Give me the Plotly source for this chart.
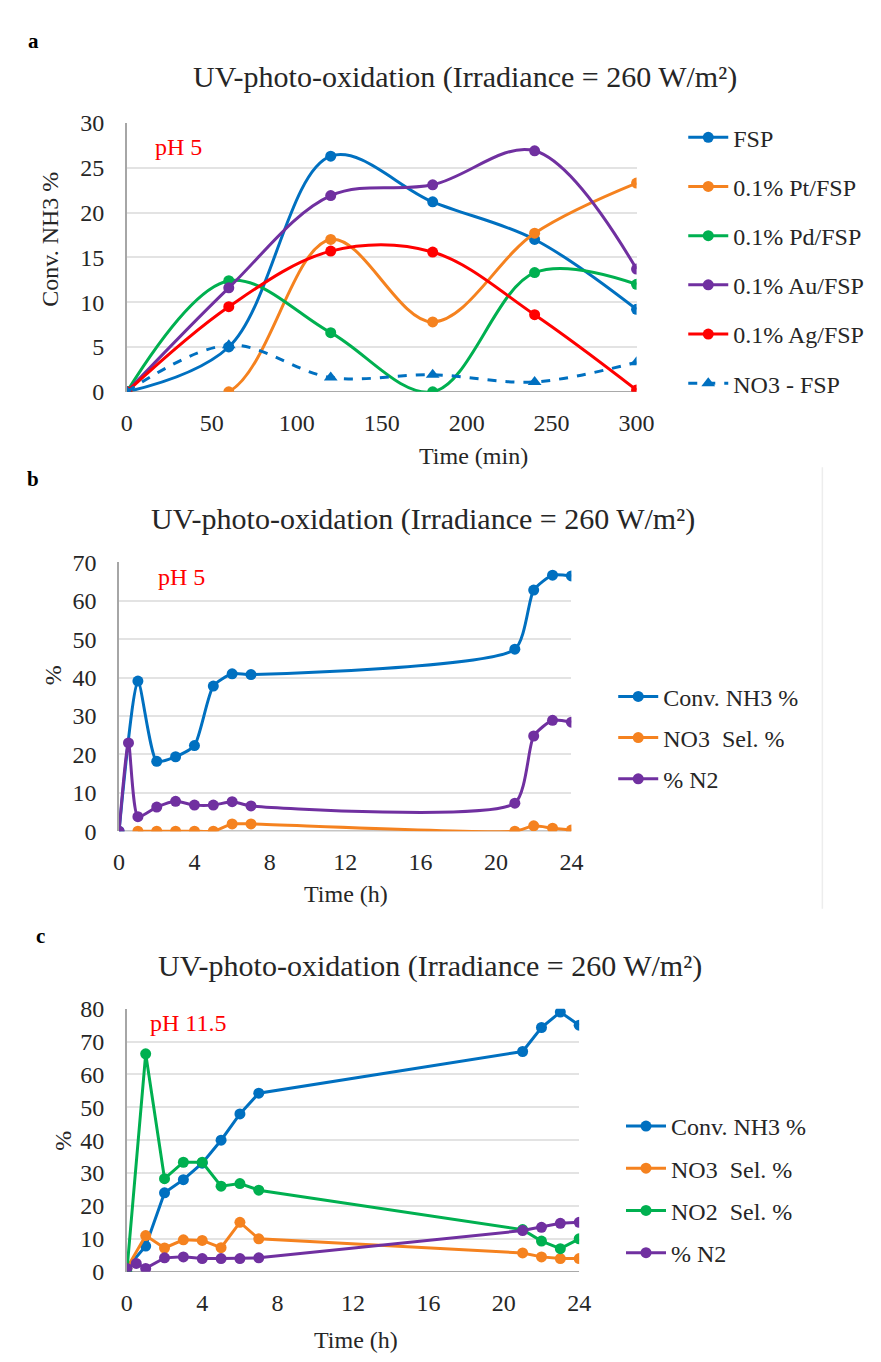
import plotly.graph_objects as go

W, H = 881, 1362
FONT = "Liberation Serif, Times New Roman, serif"

# ---------------- Panel a data ----------------
a_time = [0, 60, 120, 180, 240, 300]
a_fsp = [0, 5.0, 26.3, 21.2, 17.0, 9.2]
a_pt = [0, 0.0, 17.0, 7.8, 17.7, 23.3]
a_pd = [0, 12.4, 6.6, 0.0, 13.3, 12.0]
a_au = [0, 11.6, 21.9, 23.1, 26.9, 13.7]
a_ag = [0, 9.5, 15.7, 15.6, 8.6, 0.2]
a_no3 = [0, 5.2, 1.6, 1.9, 1.1, 3.3]

# ---------------- Panel b data ----------------
b_time_conv = [0, 1, 2, 3, 4, 5, 6, 7, 21, 22, 23, 24]
b_conv = [0, 39.1, 18.2, 19.4, 22.3, 37.8, 41.0, 40.8, 47.4, 62.8, 66.7, 66.5]
b_time_no3 = [1, 2, 3, 4, 5, 6, 7, 21, 22, 23, 24]
b_no3 = [0, 0, 0, 0, 0, 1.9, 1.9, 0, 1.4, 0.8, 0.3]
b_time_n2 = [0, 0.5, 1, 2, 3, 4, 5, 6, 7, 21, 22, 23, 24]
b_n2 = [0, 23.0, 3.8, 6.3, 7.8, 6.8, 6.8, 7.7, 6.6, 7.3, 24.8, 28.9, 28.4]

# ---------------- Panel c data ----------------
c_time = [0, 1, 2, 3, 4, 5, 6, 7, 21, 22, 23, 24]
c_conv = [1.0, 7.8, 24.0, 28.0, 33.0, 40.0, 48.0, 54.3, 67.0, 74.3, 79.0, 75.0]
c_no3 = [1.0, 11.0, 7.2, 9.7, 9.5, 7.3, 15.0, 10.0, 5.7, 4.5, 4.0, 4.0]
c_no2 = [0.0, 66.3, 28.3, 33.3, 33.3, 26.0, 26.8, 24.8, 12.8, 9.3, 7.0, 10.0]
c_time_n2 = [0, 0.5, 1, 2, 3, 4, 5, 6, 7, 21, 22, 23, 24]
c_n2 = [1.0, 2.5, 1.0, 4.2, 4.5, 4.0, 4.0, 4.0, 4.2, 12.5, 13.5, 14.7, 15.0]

BLUE = "#0070C0"
ORANGE = "#F5821F"
GREEN = "#00B050"
PURPLE = "#7030A0"
RED = "#FF0000"
TXT = "#262626"

fig = go.Figure()


def px_x(p):
    return p / W


def px_y(p):
    return 1 - p / H


def add(x, y, name, color, xa, ya, legend, group, shape="spline", smooth=1.0,
        dash="solid", symbol="circle", msize=11):
    fig.add_trace(go.Scatter(
        x=x, y=y, name=name, mode="lines+markers",
        line=dict(color=color, width=3, shape=shape, dash=dash, smoothing=smooth),
        marker=dict(color=color, size=msize, symbol=symbol),
        xaxis=xa, yaxis=ya, legend=legend, legendgroup=group,
    ))


# panel a
add(a_time, a_fsp, "FSP", BLUE, "x", "y", "legend", "a1")
add(a_time, a_pt, "0.1% Pt/FSP", ORANGE, "x", "y", "legend", "a2")
add(a_time, a_pd, "0.1% Pd/FSP", GREEN, "x", "y", "legend", "a3")
add(a_time, a_au, "0.1% Au/FSP", PURPLE, "x", "y", "legend", "a4")
add(a_time, a_ag, "0.1% Ag/FSP", RED, "x", "y", "legend", "a5")
add(a_time, a_no3, "NO3 - FSP", BLUE, "x", "y", "legend", "a6", dash="dash",
    symbol="triangle-up", msize=12)

# panel b
add(b_time_conv, b_conv, "Conv. NH3 %", BLUE, "x2", "y2", "legend2", "b1", smooth=0.6)
add(b_time_no3, b_no3, "NO3\u00a0\u00a0Sel. %", ORANGE, "x2", "y2", "legend2", "b2", smooth=0.6)
add(b_time_n2, b_n2, "% N2", PURPLE, "x2", "y2", "legend2", "b3", smooth=0.6)

# panel c
add(c_time, c_conv, "Conv. NH3 %", BLUE, "x3", "y3", "legend3", "c1", shape="linear")
add(c_time, c_no3, "NO3\u00a0\u00a0Sel. %", ORANGE, "x3", "y3", "legend3", "c2", shape="linear")
add(c_time, c_no2, "NO2\u00a0\u00a0Sel. %", GREEN, "x3", "y3", "legend3", "c3", shape="linear")
add(c_time_n2, c_n2, "% N2", PURPLE, "x3", "y3", "legend3", "c4", shape="linear")

tickfont = dict(family=FONT, size=24, color=TXT)
titlefont = dict(family=FONT, size=24, color=TXT)


def xax(domain, rng, dtick, anchor):
    return dict(domain=domain, range=rng, dtick=dtick, tick0=0, anchor=anchor,
                showgrid=False, zeroline=False, showline=False, ticks="",
                ticklabelstandoff=14, tickfont=tickfont, fixedrange=True)


def yax(domain, rng, dtick, anchor):
    return dict(domain=domain, range=rng, dtick=dtick, tick0=0, anchor=anchor,
                showgrid=True, gridcolor="#E3E3E3", gridwidth=1.5,
                zeroline=False, showline=True, linecolor="#A6A6A6", linewidth=1.5,
                ticks="", ticklabelstandoff=16, tickfont=tickfont, fixedrange=True)


layout = dict(
    width=W, height=H, margin=dict(l=0, r=0, t=0, b=0),
    paper_bgcolor="white", plot_bgcolor="white",
    font=dict(family=FONT, color=TXT),
    xaxis=xax([px_x(116), px_x(640)], [0, 300], 50, "y"),
    yaxis=yax([px_y(378), px_y(104)], [0, 30], 5, "x"),
    xaxis2=xax([px_x(108), px_x(573)], [0, 24], 4, "y2"),
    yaxis2=yax([px_y(826), px_y(552)], [0, 70], 10, "x2"),
    xaxis3=xax([px_x(116), px_x(581)], [0, 24], 4, "y3"),
    yaxis3=yax([px_y(1275), px_y(1007)], [0, 80], 10, "x3"),
)

legfont = dict(family=FONT, size=24, color=TXT)
for key, xp, yp, gap in [("legend", 688, 96, 15), ("legend2", 616, 666, 7),
                         ("legend3", 624, 1104, 8)]:
    layout[key] = dict(x=px_x(xp), y=px_y(yp), xanchor="left", yanchor="top",
                       font=legfont, bgcolor="rgba(0,0,0,0)", borderwidth=0,
                       traceorder="grouped", tracegroupgap=gap, itemwidth=40)

fig.update_layout(**layout)

# x-axis base lines at y = 0, drawn in data coordinates of each panel
for xa, ya, xmax in [("x", "y", a_time[-1]), ("x2", "y2", b_time_conv[-1]),
                     ("x3", "y3", c_time[-1])]:
    fig.add_shape(type="line", xref=xa, yref=ya, x0=0, x1=xmax, y0=0, y1=0,
                  line=dict(color="#8C8C8C", width=1.5), layer="below")

# faint chart-area border of panel b
fig.add_shape(type="line", xref="paper", yref="paper", x0=px_x(831), x1=px_x(831),
              y0=px_y(455), y1=px_y(905), line=dict(color="#EDEDED", width=1.5))

title_txt = "UV-photo-oxidation (Irradiance = 260 W/m\u00b2)"
panels = [
    # label, lx, ly, title cx, title y, xtitle, xt cx, xt y, ytitle, yt x, yt y
    ("a", 20, 20, 464, 57, "Time (min)", 472, 443, "Conv. NH3 %", 37, 222),
    ("b", 20, 467, 420, 508, "Time (h)", 341, 890, "%", 40, 667),
    ("c", 27, 933, 428, 963, "Time (h)", 352, 1345, "%", 51, 1142),
]
for lbl, lx, ly, tx, ty, xt, xtx, xty, yt, ytx, yty in panels:
    fig.add_annotation(text=lbl, x=px_x(lx), y=px_y(ly), xref="paper",
                       yref="paper", showarrow=False, xanchor="center", yanchor="middle",
                       font=dict(family=FONT, size=21, color="black", weight="bold"))
    fig.add_annotation(text=title_txt, x=px_x(tx), y=px_y(ty), xref="paper",
                       yref="paper", showarrow=False, xanchor="center", yanchor="middle",
                       font=dict(family=FONT, size=30, color=TXT))
    fig.add_annotation(text=xt, x=px_x(xtx), y=px_y(xty), xref="paper",
                       yref="paper", showarrow=False, xanchor="center", yanchor="middle",
                       font=titlefont)
    fig.add_annotation(text=yt, x=px_x(ytx), y=px_y(yty), xref="paper",
                       yref="paper", showarrow=False, xanchor="center", yanchor="middle",
                       textangle=-90, font=titlefont)

for txt, lx, ly in [("pH 5", 143, 128), ("pH 5", 146, 567), ("pH 11.5", 138, 1022)]:
    fig.add_annotation(text=txt, x=px_x(lx), y=px_y(ly), xref="paper", yref="paper",
                       showarrow=False, xanchor="left", yanchor="middle",
                       font=dict(family=FONT, size=24, color="#FF0000"))

fig.write_html("out.html")
